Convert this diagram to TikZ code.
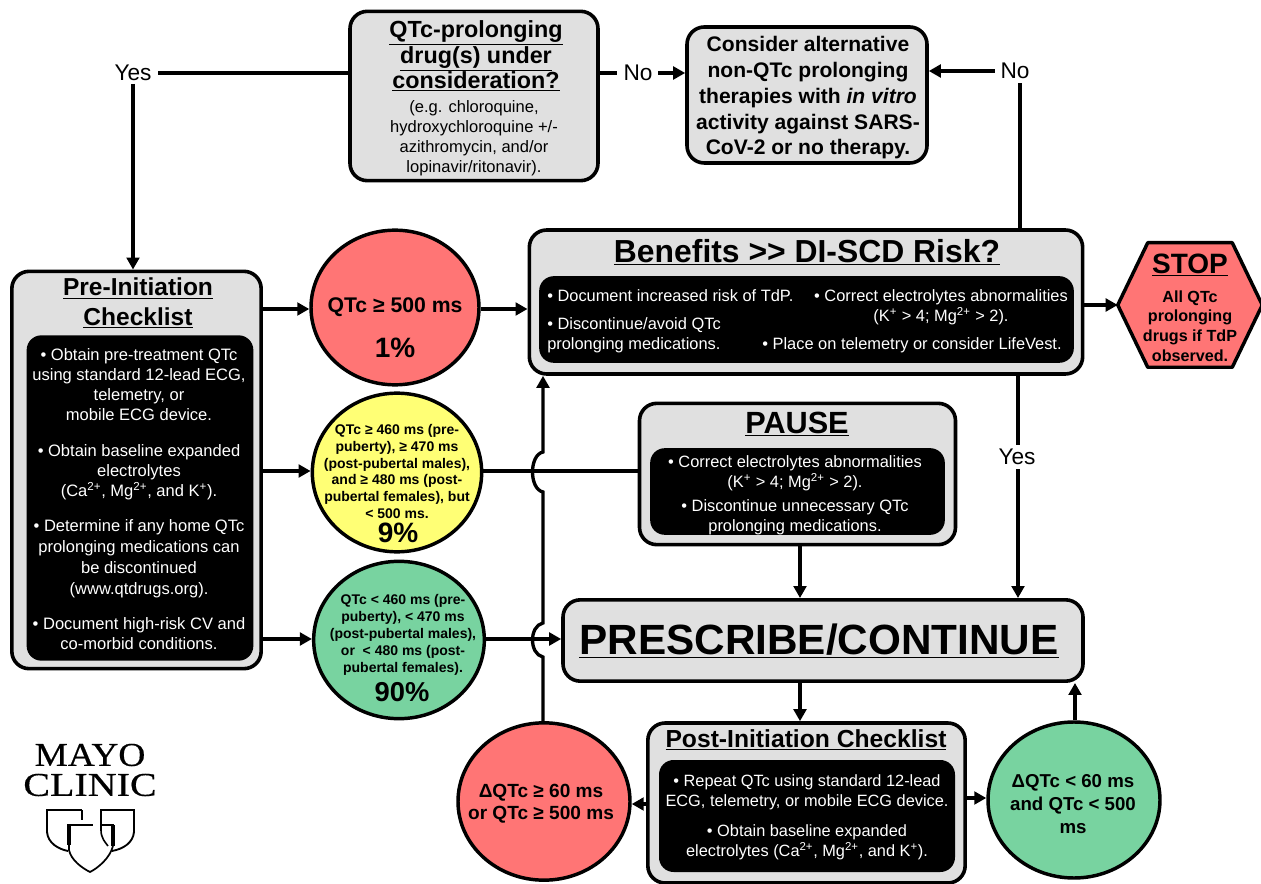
\documentclass[tikz,border=0pt]{standalone}
\usepackage{fontspec}
\setmainfont{Liberation Sans}
\newfontfamily\logofont[FakeBold=0.4]{Liberation Serif}
\usetikzlibrary{arrows.meta,calc,shapes.geometric}
\newcommand{\fsz}[2]{\fontsize{#1}{#2}\selectfont}
\newcommand{\ul}[1]{\underline{#1}}
\tikzset{
 x=0.75pt,y=-0.75pt,
 greybox/.style={draw=black,line width=2.7pt,fill=boxgrey,rounded corners=13pt,inner sep=0pt},
 blackbox/.style={fill=black,text=white,rounded corners=11pt,inner sep=0pt,align=center},
 disc/.style={ellipse,draw=black,line width=2.6pt,inner sep=0pt,align=center},
 lab/.style={inner sep=0pt,align=center},
 wire/.style={line width=2.5pt,draw=black},
 arr/.style={wire,-{Triangle[length=9pt,width=9.5pt]}},
}
\definecolor{boxgrey}{HTML}{E0E0E0}
\definecolor{cred}{HTML}{FF7575}
\definecolor{cyellow}{HTML}{FFFF75}
\definecolor{cgreen}{HTML}{78D3A0}
\begin{document}
\begin{tikzpicture}
\useasboundingbox (0,0) rectangle (1261,884);
% boxes
\node[greybox,minimum width=186pt,minimum height=127pt] (q) at (474,96) {};
\node[lab,font=\bfseries\fsz{17.5}{18.9}] at (476,56) {\ul{QTc-prolonging}\\\ul{drug(s) under}\\\ul{consideration?}};
\node[lab,font=\fsz{12.4}{15}] (qt) at (474,138) {(e.g. chloroquine,\\hydroxychloroquine +/-\\azithromycin, and/or\\lopinavir/ritonavir).};
\node[greybox,minimum width=180pt,minimum height=102pt] (alt) at (807,95) {};
\node[lab,font=\bfseries\fsz{15.8}{19.3}] at (808,98) {Consider alternative\\non-QTc prolonging\\therapies with \textit{in vitro}\\activity against SARS-\\CoV-2 or no therapy.};
\node[greybox,minimum width=415pt,minimum height=108pt] (ben) at (806,302) {};
\node[lab,font=\bfseries\fsz{23.9}{26}] at (807,252) {\ul{Benefits >{}> DI-SCD Risk?}};
\node[blackbox,minimum width=401pt,minimum height=65pt] (benk) at (806.5,319.5) {};
\node[lab,text=white,font=\fsz{12.3}{14},anchor=west] at (547,296) {• Document increased risk of TdP.};
\node[lab,text=white,font=\fsz{12.3}{15},align=left,anchor=north west] at (547,317) {• Discontinue/avoid QTc\\prolonging medications.};
\node[lab,text=white,font=\fsz{12.3}{15}] at (941,307) {• Correct electrolytes abnormalities\\(K\textsuperscript{+} > 4; Mg\textsuperscript{2+} > 2).};
\node[lab,text=white,font=\fsz{12.3}{14}] at (912,345) {• Place on telemetry or consider LifeVest.};
\node[inner sep=0pt,minimum width=108pt,minimum height=93pt] (stop) at (1190,305) {};
\draw[draw=black,line width=2.6pt,fill=cred,line join=round] (stop.west) -- ($(stop.north west)+(30,0)$) -- ($(stop.north east)+(-30,0)$) -- (stop.east) -- ($(stop.south east)+(-30,0)$) -- ($(stop.south west)+(30,0)$) -- cycle;
\node[lab,font=\bfseries\fsz{21}{23}] at (1190,265) {\ul{STOP}};
\node[lab,font=\bfseries\fsz{12.1}{14.8}] at (1190,326) {All QTc\\prolonging\\drugs if TdP\\observed.};
\node[greybox,minimum width=187pt,minimum height=298pt] (pre) at (136.5,470) {};
\node[lab,font=\bfseries\fsz{18.4}{22}] at (138,303) {\ul{Pre-Initiation}\\\ul{Checklist}};
\node[blackbox,minimum width=170pt,minimum height=244pt] (prek) at (140,498) {};
\node[lab,text=white,font=\fsz{12.4}{15}] at (139,385) {• Obtain pre-treatment QTc\\using standard 12-lead ECG,\\telemetry, or\\mobile ECG device.};
\node[lab,text=white,font=\fsz{12.4}{15}] at (139,472) {• Obtain baseline expanded\\electrolytes\\(Ca\textsuperscript{2+}, Mg\textsuperscript{2+}, and K\textsuperscript{+}).};
\node[lab,text=white,font=\fsz{12.4}{15.7}] at (139,559) {• Determine if any home QTc\\prolonging medications can\\be discontinued\\(www.qtdrugs.org).};
\node[lab,text=white,font=\fsz{12.4}{15}] at (139,634) {• Document high-risk CV and\\co-morbid conditions.};
% discs
\node[disc,fill=cred,minimum width=126pt,minimum height=116pt] (red) at (395,307.5) {};
\node[lab,font=\bfseries\fsz{15.9}{17}] at (395,307) {QTc ≥ 500 ms};
\node[lab,font=\bfseries\fsz{21}{23}] at (395,348) {1\%};
\node[disc,fill=cyellow,minimum width=127pt,minimum height=119pt] (yel) at (397,472.5) {};
\node[lab,font=\bfseries\fsz{10.5}{12.7}] at (397,471.5) {QTc ≥ 460 ms (pre-\\puberty), ≥ 470 ms\\(post-pubertal males),\\and ≥ 480 ms (post-\\pubertal females), but\\< 500 ms.};
\node[lab,font=\bfseries\fsz{21}{23}] at (398,533) {9\%};
\node[disc,fill=cgreen,minimum width=128pt,minimum height=118pt] (grn) at (399,640) {};
\node[lab,font=\bfseries\fsz{10.5}{12.7}] at (403,635) {QTc < 460 ms (pre-\\puberty), < 470 ms\\(post-pubertal males),\\or\ \ < 480 ms (post-\\pubertal females).};
\node[lab,font=\bfseries\fsz{20.5}{22}] at (402,692) {90\%};
% pause
\node[greybox,minimum width=237pt,minimum height=106pt] (pau) at (797.5,474) {};
\node[lab,font=\bfseries\fsz{23}{25}] at (797,424) {\ul{PAUSE}};
\node[blackbox,minimum width=221pt,minimum height=65pt] (pauk) at (797.5,491.5) {};
\node[lab,text=white,font=\fsz{12.3}{15}] at (795,495) {• Correct electrolytes abnormalities\\(K\textsuperscript{+} > 4; Mg\textsuperscript{2+} > 2).\\[3pt]• Discontinue unnecessary QTc\\prolonging medications.};
% prescribe
\node[greybox,minimum width=390pt,minimum height=61pt] (rx) at (823,640.5) {};
\node[lab,font=\bfseries\fsz{31.7}{33}] at (819,641) {\ul{PRESCRIBE/CONTINUE}};
% post
\node[greybox,minimum width=238pt,minimum height=120pt] (post) at (806.5,803) {};
\node[lab,font=\bfseries\fsz{18.5}{20}] at (806,740) {\ul{Post-Initiation Checklist}};
\node[blackbox,minimum width=222pt,minimum height=84pt] (postk) at (807,816) {};
\node[lab,text=white,font=\fsz{12.25}{15}] at (807,792) {• Repeat QTc using standard 12-lead\\ECG, telemetry, or mobile ECG device.};
\node[lab,text=white,font=\fsz{12.25}{15}] at (807,842) {• Obtain baseline expanded\\electrolytes (Ca\textsuperscript{2+}, Mg\textsuperscript{2+}, and K\textsuperscript{+}).};
\node[disc,fill=cred,minimum width=129pt,minimum height=118pt] (red2) at (544,801.5) {};
\node[lab,font=\bfseries\fsz{14.3}{16.8}] at (541,804) {ΔQTc ≥ 60 ms\\or QTc ≥ 500 ms};
\node[disc,fill=cgreen,minimum width=129pt,minimum height=117pt] (grn2) at (1074,800) {};
\node[lab,font=\bfseries\fsz{14}{17}] at (1073,804) {ΔQTc < 60 ms\\and QTc < 500\\ms};
% labels
\node[lab,font=\fsz{17}{19}] (yes1) at (133,73) {Yes};
\node[lab,font=\fsz{17}{19}] (no1) at (638,73) {No};
\node[lab,font=\fsz{17}{19}] (no2) at (1015,71) {No};
\node[lab,font=\fsz{17}{19}] (yes2) at (1017,457) {Yes};
% connectors
\coordinate (ya) at (0,309); \coordinate (yb) at (0,471); \coordinate (yc) at (0,639);
\coordinate (yd) at (0,804); \coordinate (ye) at (0,798);
\coordinate (xj) at (543,0); \coordinate (xb) at (1020,0); \coordinate (xd) at (1018,0); \coordinate (xc) at (800,0); \coordinate (xe) at (1075,0);
\draw[wire] (q.west |- yes1) -- ([xshift=5pt]yes1.east);
\draw[arr] ([yshift=-2pt]yes1.south) -- (pre.north -| yes1);
\draw[wire] (q.east |- no1) -- ([xshift=-5pt]no1.west);
\draw[arr] ([xshift=4pt]no1.east) -- (alt.west |- no1);
\draw[arr] ([xshift=-4pt]no2.west) -- (alt.east |- no2);
\draw[wire] (ben.north -| xb) -- ([yshift=-3pt]no2.south -| xb);
\draw[arr] (ben.east |- stop) -- (stop.west);
\draw[arr] (pre.east |- ya) -- (red.west |- ya);
\draw[arr] (pre.east |- yb) -- (yel.west |- yb);
\draw[arr] (pre.east |- yc) -- (grn.west |- yc);
\draw[arr] (red.east |- ya) -- (ben.west |- ya);
\draw[wire] (yel.east |- yb) -- (pau.west |- yb);
\draw[arr] (grn.east |- yc) -- (rx.west |- yc);
\draw[arr] (red2.north -| xj) -- (xj |- 0,657) .. controls ($(xj |- 0,654)+(-14,0)$) and ($(xj |- 0,626)+(-14,0)$) .. (xj |- 0,623) -- (xj |- 0,492) .. controls ($(xj |- 0,489)+(-14,0)$) and ($(xj |- 0,455)+(-14,0)$) .. (xj |- 0,452) -- (ben.south -| xj);
\draw[arr] (pau.south -| xc) -- (rx.north -| xc);
\draw[wire] (ben.south -| xd) -- ([yshift=3pt]yes2.north -| xd);
\draw[arr] ([yshift=-3pt]yes2.south -| xd) -- (rx.north -| xd);
\draw[arr] (rx.south -| xc) -- (post.north -| xc);
\draw[arr] (post.west |- yd) -- (red2.east |- yd);
\draw[arr] (post.east |- ye) -- (grn2.west |- ye);
\draw[arr] (grn2.north -| xe) -- (rx.south -| xe);
% logo
\node[lab,font=\logofont\fsz{25}{25}] at (90,755) {\scalebox{1.12}[1]{MAYO}};
\node[lab,font=\logofont\fsz{25}{25}] at (90,785) {\scalebox{1.2}[1]{CLINIC}};
\begin{scope}[line join=miter]
\draw[line width=1.1pt] (82,810) -- (46,810);
\draw[line width=2.2pt] (47,810) -- (47,832);
\draw[line width=1.4pt] (47,832) .. controls (48,843) and (58,849) .. (68,851);
\draw[line width=1.1pt] (82,810) -- (82,820);
\draw[line width=1.1pt] (100,810) -- (135,810);
\draw[line width=2.2pt] (134,810) -- (134,832);
\draw[line width=1.4pt] (134,832) .. controls (133,843) and (123,849) .. (112,851);
\draw[line width=2.2pt] (101,810) -- (101,830);
\draw[line width=1.2pt] (101,830) .. controls (101,838) and (105,842) .. (108,846);
\draw[line width=1.1pt] (67,825) -- (93,825);
\draw[line width=2.4pt] (69,825) -- (69,845);
\draw[line width=1.1pt] (100,825) -- (114,825);
\draw[line width=2.4pt] (113,825) -- (113,846);
\draw[line width=1.3pt] (69,845) -- (69,850) .. controls (71,860) and (82,868) .. (90,872) .. controls (98,868) and (110,858) .. (113,846);
\end{scope}
\end{tikzpicture}
\end{document}
